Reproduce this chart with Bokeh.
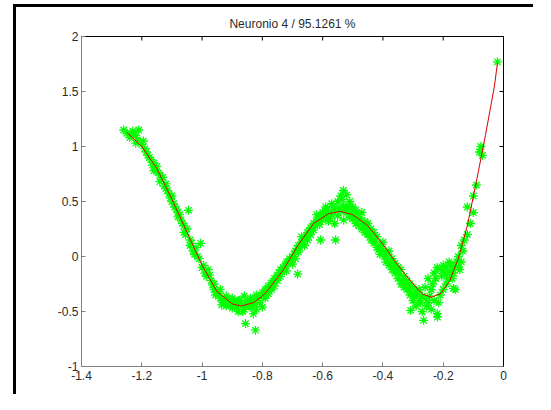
import math
from bokeh.plotting import figure
from bokeh.models import Range1d, LinearAxis, FixedTicker
from bokeh.embed import file_html
from bokeh.resources import INLINE

title_text = "Neuronio 4 / 95.1261 %"
x_ticks = [-1.4, -1.2, -1.0, -0.8, -0.6, -0.4, -0.2, 0.0]
x_tick_labels = ["-1.4", "-1.2", "-1", "-0.8", "-0.6", "-0.4", "-0.2", "0"]
y_ticks = [-1.0, -0.5, 0.0, 0.5, 1.0, 1.5, 2.0]
y_tick_labels = ["-1", "-0.5", "0", "0.5", "1", "1.5", "2"]

sample_x = [
    -1.26, -1.25, -1.24, -1.23, -1.22, -1.22, -1.21, -1.20, -1.19,
    -1.18, -1.17, -1.16, -1.16, -1.15, -1.14, -1.14, -1.13, -1.12, -1.12, -1.11, -1.10, -1.10,
    -1.09, -1.08, -1.08, -1.07, -1.06, -1.06, -1.05, -1.045, -1.04, -1.04, -1.03, -1.02, -1.01, -1.005, -1.00,
    -0.99, -0.98, -0.97, -0.96, -0.96, -0.95, -0.94, -0.94, -0.93, -0.92, -0.92, -0.91, -0.90, -0.90,
    -0.89, -0.88, -0.88, -0.87, -0.86, -0.86, -0.856, -0.85, -0.84, -0.84, -0.83, -0.83, -0.823, -0.82, -0.82, -0.81, -0.80, -0.80,
    -0.79, -0.79, -0.78, -0.78, -0.77, -0.77, -0.76, -0.76, -0.75, -0.75, -0.74, -0.74, -0.73, -0.72, -0.72, -0.71, -0.70, -0.70,
    -0.69, -0.69, -0.68, -0.68, -0.683, -0.67, -0.67, -0.66, -0.66, -0.65, -0.65, -0.64, -0.64, -0.63, -0.63, -0.62, -0.62, -0.61, -0.61, -0.607, -0.60, -0.60,
    -0.59, -0.59, -0.58, -0.58, -0.57, -0.57, -0.56, -0.56, -0.557, -0.55, -0.55, -0.54, -0.54, -0.531, -0.53, -0.53, -0.52, -0.52, -0.51, -0.51, -0.50, -0.50,
    -0.49, -0.49, -0.48, -0.48, -0.47, -0.47, -0.46, -0.46, -0.45, -0.45, -0.44, -0.44, -0.43, -0.43, -0.42, -0.42, -0.41, -0.41, -0.40, -0.40,
    -0.39, -0.39, -0.38, -0.38, -0.37, -0.37, -0.36, -0.36, -0.35, -0.35, -0.34, -0.34, -0.33, -0.33, -0.32, -0.32, -0.31, -0.31, -0.308, -0.30, -0.30,
    -0.29, -0.29, -0.28, -0.28, -0.27, -0.27, -0.265, -0.26, -0.26, -0.25, -0.25, -0.24, -0.24, -0.23, -0.23, -0.22, -0.22, -0.219, -0.21, -0.21, -0.20, -0.20,
    -0.19, -0.19, -0.18, -0.18, -0.17, -0.17, -0.166, -0.16, -0.16, -0.15, -0.15, -0.14, -0.14, -0.13, -0.12, -0.12, -0.11, -0.10, -0.10,
    -0.09, -0.08, -0.075, -0.07, -0.02,
]
sample_y = [
    1.15, 1.12, 1.08, 1.14, 1.10, 1.03, 1.15, 1.02, 0.98,
    0.92, 0.88, 0.85, 0.78, 0.82, 0.74, 0.68, 0.72, 0.62, 0.66, 0.57, 0.50, 0.55,
    0.45, 0.40, 0.36, 0.33, 0.28, 0.22, 0.25, 0.42, 0.15, 0.10, 0.05, 0.08, -0.02, 0.12, -0.10,
    -0.15, -0.12, -0.22, -0.30, -0.25, -0.33, -0.38, -0.30, -0.40, -0.36, -0.45, -0.42, -0.47, -0.38,
    -0.44, -0.50, -0.40, -0.43, -0.48, -0.36, -0.61, -0.41, -0.45, -0.38, -0.52, -0.40, -0.67, -0.48, -0.35, -0.42, -0.46, -0.33,
    -0.30, -0.38, -0.27, -0.34, -0.24, -0.30, -0.20, -0.27, -0.17, -0.22, -0.12, -0.18, -0.10, -0.05, -0.13, -0.02, 0.00, -0.07,
    0.05, -0.02, 0.10, 0.04, -0.16, 0.13, 0.18, 0.17, 0.10, 0.22, 0.15, 0.26, 0.20, 0.30, 0.24, 0.32, 0.38, 0.29, 0.35, 0.15, 0.40, 0.33,
    0.36, 0.45, 0.40, 0.32, 0.48, 0.38, 0.42, 0.30, 0.15, 0.50, 0.37, 0.55, 0.41, 0.60, 0.46, 0.33, 0.56, 0.40, 0.50, 0.36, 0.45, 0.34,
    0.42, 0.30, 0.38, 0.28, 0.40, 0.25, 0.32, 0.22, 0.30, 0.20, 0.25, 0.15, 0.22, 0.12, 0.18, 0.08, 0.10, 0.02, 0.13, 0.05,
    0.04, -0.05, 0.05, -0.08, -0.02, -0.12, -0.06, -0.15, -0.10, -0.20, -0.12, -0.25, -0.18, -0.28, -0.22, -0.30, -0.25, -0.35, -0.49, -0.28, -0.40,
    -0.32, -0.45, -0.30, -0.40, -0.36, -0.50, -0.58, -0.38, -0.28, -0.42, -0.20, -0.48, -0.30, -0.15, -0.40, -0.52, -0.10, -0.55, -0.35, -0.12, -0.08, -0.30,
    -0.10, -0.25, -0.05, -0.15, -0.12, -0.20, -0.29, -0.08, -0.30, -0.10, 0.00, -0.05, 0.10, 0.15, 0.20, 0.45, 0.30, 0.55, 0.40,
    0.65, 0.95, 1.00, 0.92, 1.77,
]
# more points from the dense band around the curve
extra_x = [
    -1.235, -1.215, -1.195, -1.185, -1.175, -1.165, -1.155, -1.145, -1.135, -1.125,
    -1.115, -1.105, -1.095, -1.085, -1.075, -1.065, -1.055, -1.035, -1.025, -1.015,
    -0.995, -0.985, -0.975, -0.965, -0.955, -0.945, -0.935, -0.925, -0.915, -0.905,
    -0.895, -0.885, -0.875, -0.865, -0.855, -0.845, -0.835, -0.825, -0.815, -0.805,
    -0.795, -0.785, -0.775, -0.765, -0.755, -0.745, -0.735, -0.725, -0.715, -0.705,
    -0.695, -0.685, -0.675, -0.665, -0.655, -0.645, -0.635, -0.625, -0.615, -0.605,
    -0.595, -0.585, -0.575, -0.565, -0.545, -0.535, -0.525, -0.515, -0.505, -0.495,
    -0.485, -0.475, -0.465, -0.455, -0.445, -0.435, -0.425, -0.415, -0.405, -0.395,
    -0.385, -0.375, -0.365, -0.355, -0.345, -0.335, -0.325, -0.315, -0.305, -0.295,
    -0.285, -0.275, -0.255, -0.245, -0.235, -0.225, -0.215, -0.205, -0.195, -0.185,
    -0.175, -0.165, -0.155, -0.145, -0.135,
]
extra_y = [
    1.11, 1.06, 1.05, 0.95, 0.90, 0.83, 0.79, 0.76, 0.70, 0.64,
    0.60, 0.53, 0.48, 0.43, 0.38, 0.30, 0.20, 0.12, 0.02, 0.00,
    -0.08, -0.18, -0.17, -0.26, -0.35, -0.34, -0.44, -0.40, -0.38, -0.44,
    -0.40, -0.46, -0.40, -0.50, -0.45, -0.42, -0.46, -0.43, -0.38, -0.37,
    -0.34, -0.31, -0.28, -0.24, -0.21, -0.15, -0.14, -0.09, -0.06, -0.03,
    0.02, 0.07, 0.08, 0.14, 0.18, 0.23, 0.27, 0.28, 0.33, 0.37,
    0.39, 0.43, 0.35, 0.45, 0.44, 0.52, 0.43, 0.45, 0.40, 0.37,
    0.34, 0.33, 0.28, 0.26, 0.20, 0.18, 0.14, 0.06, 0.09, 0.00,
    0.01, -0.06, -0.09, -0.13, -0.16, -0.22, -0.25, -0.28, -0.33, -0.36,
    -0.35, -0.42, -0.45, -0.36, -0.25, -0.20, -0.42, -0.18, -0.15, -0.20,
    -0.08, -0.15, -0.05, -0.12, 0.05,
]

# fitted network output (red curve)
fit_x = [-1.25, -1.20, -1.15, -1.10, -1.05, -1.00, -0.95, -0.90, -0.87, -0.83, -0.80,
         -0.78, -0.73, -0.68, -0.63, -0.58, -0.54, -0.50, -0.45, -0.40, -0.35,
         -0.30, -0.27, -0.24, -0.21, -0.18, -0.15, -0.12, -0.09, -0.06, -0.03, -0.02]
fit_y = [1.13, 1.00, 0.80, 0.52, 0.22, -0.08, -0.32, -0.43, -0.45, -0.42, -0.36,
         -0.30, -0.12, 0.11, 0.30, 0.39, 0.41, 0.38, 0.28, 0.11, -0.08,
         -0.25, -0.34, -0.37, -0.34, -0.23, -0.02, 0.28, 0.68, 1.10, 1.55, 1.76]

label_font = "Liberation Sans"
label_color = "#2a2a2a"

p = figure(width=520, height=390,
           x_range=Range1d(x_ticks[0], x_ticks[-1]),
           y_range=Range1d(y_ticks[0], y_ticks[-1]),
           output_backend="svg", toolbar_location=None,
           min_border_left=65, min_border_right=33,
           min_border_top=29, min_border_bottom=31,
           title=title_text)
# shift the figure in normal flow; a shadow draws the left/top frame lines
p.styles = {"margin-left": "16px", "margin-top": "7px",
            "background-color": "white",
            "box-shadow": "-3px -3px 0px 0px black"}

p.title.align = "center"
p.title.text_font = label_font
p.title.text_font_size = "12px"
p.title.text_font_style = "normal"
p.title.text_color = label_color
p.title.standoff = 11
p.grid.visible = False
p.outline_line_color = None
p.background_fill_color = "white"
p.border_fill_color = "white"

xa = p.xaxis[0]
xa.ticker = FixedTicker(ticks=x_ticks)
xa.major_label_overrides = {t: s for t, s in zip(x_ticks, x_tick_labels)}
ya = p.yaxis[0]
ya.ticker = FixedTicker(ticks=y_ticks)
ya.major_label_overrides = {t: s for t, s in zip(y_ticks, y_tick_labels)}
for ax in (xa, ya):
    ax.axis_line_color = "#7f7f7f"
    ax.major_tick_line_color = "#7f7f7f"
    ax.major_tick_in = 4
    ax.major_tick_out = 0
    ax.minor_tick_line_color = None
    ax.major_label_text_font = label_font
    ax.major_label_text_font_size = "12px"
    ax.major_label_text_color = label_color
xa.major_label_standoff = 4
ya.major_label_standoff = 3

# top and right box lines (no labels)
top_ax = LinearAxis(ticker=FixedTicker(ticks=[]))
right_ax = LinearAxis(ticker=FixedTicker(ticks=[]))
for ax in (top_ax, right_ax):
    ax.axis_line_color = "black"
    ax.major_tick_line_color = None
    ax.minor_tick_line_color = None
    ax.major_label_standoff = 0
p.add_layout(top_ax, "above")
p.add_layout(right_ax, "right")

p.scatter(sample_x + extra_x, sample_y + extra_y, marker="asterisk", size=9,
          line_color="#00ff00", line_width=1.3)
p.line(fit_x, fit_y, line_color="#d80000", line_width=1)

# inward tick marks on the top and right box lines (half clipped by the frame)
p.scatter(x_ticks, [y_ticks[-1]] * len(x_ticks), marker="dash", angle=math.pi / 2,
          size=8, line_color="black", line_width=1)
p.scatter([x_ticks[-1]] * len(y_ticks), y_ticks, marker="dash",
          size=8, line_color="black", line_width=1)

open("out.html", "w").write(file_html(p, INLINE))
